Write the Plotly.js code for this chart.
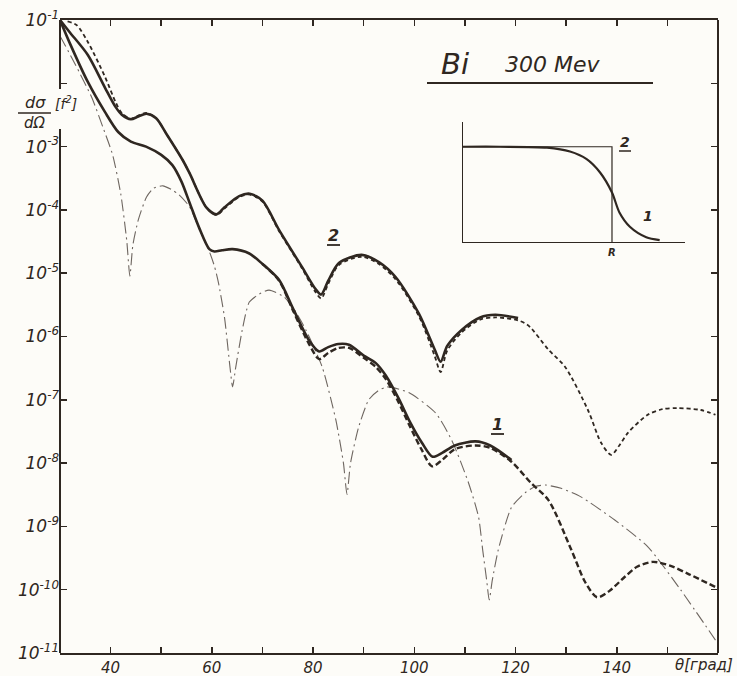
<!DOCTYPE html>
<html>
<head>
<meta charset="utf-8">
<script src="https://cdn.plot.ly/plotly-3.0.1.min.js"></script>
<style>html,body{margin:0;padding:0;background:#fdfcf8;}</style>
</head>
<body>
<div id="chart" style="width:737px;height:676px;"></div>
<script>
// ---- Data (theta in degrees, dσ/dΩ in f²) ----
const theta2Solid = [30, 32, 35.5, 38.9, 41, 42.2, 44, 45.5, 47.1, 49, 51, 54.2, 55.6, 58.9, 60.9, 62.5, 65.4, 67.5, 70, 73.3, 77.8, 80.5, 81.6, 83, 85.1, 89.6, 93, 96.3, 100.9, 104, 105.2, 106.5, 109.3, 113, 116, 120.5];
const sigma2Solid = [1.0e-1, 6.3e-2, 2.8e-2, 8.5e-3, 4.2e-3, 3.2e-3, 2.7e-3, 3.0e-3, 3.3e-3, 2.8e-3, 1.6e-3, 6.2e-4, 3.8e-4, 1.1e-4, 8.5e-5, 1.1e-4, 1.65e-4, 1.8e-4, 1.4e-4, 4.8e-5, 1.26e-5, 5.6e-6, 4.6e-6, 7.6e-6, 1.45e-5, 1.95e-5, 1.5e-5, 8.7e-6, 2.3e-6, 6.3e-7, 4.0e-7, 7.1e-7, 1.26e-6, 2.0e-6, 2.2e-6, 1.95e-6];

const theta2Dash = [31.5, 33.3, 35.5, 38.9, 41, 42.2, 44, 45.5, 47.1, 49, 51, 54.2, 55.6, 58.9, 60.9, 62.5, 65.4, 67.5, 70, 73.3, 77.8, 80.5, 81.6, 83, 85.1, 89.6, 93, 96.3, 100.9, 104, 105.2, 106.5, 109.3, 113, 116, 120.5, 122.5, 126.5, 129.8, 134.3, 136.9, 138.9, 140.5, 142.2, 146.1, 149, 152, 156.6, 159.5];
const sigma2Dash = [9.5e-2, 8.3e-2, 4.5e-2, 1.26e-2, 5.0e-3, 3.4e-3, 2.75e-3, 3.1e-3, 3.4e-3, 2.8e-3, 1.6e-3, 6.2e-4, 3.8e-4, 1.1e-4, 8.3e-5, 1.05e-4, 1.6e-4, 1.75e-4, 1.35e-4, 4.6e-5, 1.2e-5, 5.0e-6, 4.0e-6, 6.8e-6, 1.35e-5, 1.82e-5, 1.4e-5, 8.0e-6, 2.1e-6, 5.0e-7, 2.75e-7, 6.0e-7, 1.15e-6, 1.85e-6, 2.0e-6, 1.8e-6, 1.5e-6, 6.2e-7, 3.3e-7, 6.9e-8, 2.1e-8, 1.35e-8, 1.9e-8, 3.0e-8, 5.8e-8, 7.1e-8, 7.4e-8, 6.9e-8, 5.8e-8];

const theta1Solid = [30, 32, 35.5, 38.9, 41.5, 44, 47, 50, 52.2, 54, 55.6, 57.5, 59.5, 60.5, 62, 64.1, 67.4, 70, 73.3, 76, 79.2, 81.2, 83, 85, 87.1, 90, 92.4, 94.4, 96.9, 99, 101.5, 103.6, 105.5, 108, 112.1, 115, 119.2];
const sigma1Solid = [1.0e-1, 4.2e-2, 1.05e-2, 3.5e-3, 1.7e-3, 1.2e-3, 1.0e-3, 7.4e-4, 5.1e-4, 2.8e-4, 1.3e-4, 5.2e-5, 2.4e-5, 2.2e-5, 2.3e-5, 2.4e-5, 2.05e-5, 1.4e-5, 7.8e-6, 2.8e-6, 8.7e-7, 5.8e-7, 6.8e-7, 7.6e-7, 7.4e-7, 5.0e-7, 3.8e-7, 2.4e-7, 1.05e-7, 4.7e-8, 2.1e-8, 1.26e-8, 1.45e-8, 1.9e-8, 2.2e-8, 1.9e-8, 1.12e-8];

const theta1Dash = [70, 73.3, 76, 79.2, 81.2, 83, 85, 87.1, 90, 92.4, 94.4, 96.9, 99, 101.5, 103.5, 105.5, 108, 112.1, 115, 119.2, 123, 126.5, 131, 133.8, 136.1, 138.5, 141.6, 144, 147.1, 150.5, 154, 159.5];
const sigma1Dash = [1.4e-5, 7.6e-6, 2.6e-6, 7.6e-7, 4.4e-7, 5.5e-7, 6.6e-7, 6.6e-7, 4.6e-7, 3.3e-7, 2.1e-7, 9.1e-8, 4.0e-8, 1.6e-8, 8.9e-9, 1.12e-8, 1.66e-8, 1.9e-8, 1.74e-8, 1.05e-8, 4.9e-9, 2.6e-9, 4.3e-10, 1.3e-10, 7.6e-11, 9.5e-11, 1.6e-10, 2.3e-10, 2.75e-10, 2.4e-10, 1.8e-10, 1.1e-10];

const thetaBorn = [30, 33, 36.3, 38.5, 40.4, 42, 43.2, 43.8, 44.4, 45.5, 47.1, 48.5, 50.3, 52, 53.5, 55.6, 57.5, 59.5, 60.5, 61.3, 62.5, 63.6, 64.1, 64.7, 66, 67.4, 69.4, 71.3, 74.3, 76.5, 78.6, 81.8, 84.5, 86, 86.7, 87.4, 89, 91, 92.8, 94.6, 98.9, 104.2, 107.4, 110.7, 112.7, 113.5, 114.3, 114.8, 115.4, 116.6, 119.2, 121.9, 124, 125.9, 129, 133, 139.6, 146.1, 152.6, 159.5];
const sigmaBorn = [5.6e-2, 2.0e-2, 5.9e-3, 2.0e-3, 7.4e-4, 1.8e-4, 3.2e-5, 9.0e-6, 2.8e-5, 7.1e-5, 1.6e-4, 2.2e-4, 2.4e-4, 2.1e-4, 1.74e-4, 1.12e-4, 5.0e-5, 2.2e-5, 1.3e-5, 7.1e-6, 2.0e-6, 3.2e-7, 1.6e-7, 3.2e-7, 1.26e-6, 3.5e-6, 4.7e-6, 5.4e-6, 4.2e-6, 2.5e-6, 1.26e-6, 3.3e-7, 4.8e-8, 1.0e-8, 3.2e-9, 1.0e-8, 3.7e-8, 1.0e-7, 1.38e-7, 1.6e-7, 1.3e-7, 6.2e-8, 2.3e-8, 4.9e-9, 1.4e-9, 4.3e-10, 1.4e-10, 6.9e-11, 1.4e-10, 4.3e-10, 2.0e-9, 3.4e-9, 4.3e-9, 4.5e-9, 4.0e-9, 2.9e-9, 1.26e-9, 4.8e-10, 1.0e-10, 1.6e-11];

// inset: charge distributions (r in units of R, density relative)
const insetR1 = [0, 0.25, 0.564, 0.718, 0.83, 0.92, 1.0, 1.05, 1.12, 1.23, 1.32];
const insetRho1 = [1.0, 1.0, 0.99, 0.95, 0.87, 0.73, 0.52, 0.31, 0.16, 0.05, 0.02];
const insetR2 = [0, 1, 1];
const insetRho2 = [1, 1, 0];

const xTickVals = [40, 50, 60, 70, 80, 90, 100, 110, 120, 130, 140, 150];
const xTickText = ['40', '', '60', '', '80', '', '100', '', '120', '', '140', ''];
const yTickVals = [1e-1, 1e-2, 1e-3, 1e-4, 1e-5, 1e-6, 1e-7, 1e-8, 1e-9, 1e-10, 1e-11];
const yTickText = ['10<sup>-1</sup>', '', '10<sup>-3</sup>', '10<sup>-4</sup>', '10<sup>-5</sup>', '10<sup>-6</sup>', '10<sup>-7</sup>', '10<sup>-8</sup>', '10<sup>-9</sup>', '10<sup>-10</sup>', '10<sup>-11</sup>'];

// ---- Styling ----
const INK = '#2f2721';
const GREY = '#6e6660';
const BG = '#fdfcf8';
const FONT = 'DejaVu Sans';
const W = 737, H = 676, L = 60, R = 19, T = 20, B = 23;
const PW = W - L - R, PH = H - T - B;
const px = v => (v - L) / PW;
const py = v => (H - B - v) / PH;

const traces = [
  {x: thetaBorn, y: sigmaBorn, mode: 'lines', line: {color: GREY, width: 1.1, dash: '12px,4px,2px,4px', shape: 'spline', smoothing: 0.6}, hoverinfo: 'skip'},
  {x: theta2Dash, y: sigma2Dash, mode: 'lines', line: {color: INK, width: 1.8, dash: '4px,3px', shape: 'spline', smoothing: 0.8}, hoverinfo: 'skip'},
  {x: theta1Dash, y: sigma1Dash, mode: 'lines', line: {color: INK, width: 2.4, dash: '6px,3px', shape: 'spline', smoothing: 0.8}, hoverinfo: 'skip'},
  {x: theta2Solid, y: sigma2Solid, mode: 'lines', line: {color: INK, width: 2.6, shape: 'spline', smoothing: 0.8}, hoverinfo: 'skip'},
  {x: theta1Solid, y: sigma1Solid, mode: 'lines', line: {color: INK, width: 2.6, shape: 'spline', smoothing: 0.8}, hoverinfo: 'skip'},
  {x: insetR2, y: insetRho2, xaxis: 'x2', yaxis: 'y2', mode: 'lines', line: {color: INK, width: 1.2}, hoverinfo: 'skip'},
  {x: insetR1, y: insetRho1, xaxis: 'x2', yaxis: 'y2', mode: 'lines', line: {color: INK, width: 2.2, shape: 'spline', smoothing: 0.8}, hoverinfo: 'skip'}
];

function ann(x, y, text, size, bold) {
  return {xref: 'paper', yref: 'paper', x: px(x), y: py(y), text: text, showarrow: false,
          xanchor: 'center', yanchor: 'middle',
          font: {family: FONT, size: size, style: 'italic', weight: bold ? 'bold' : 'normal', color: INK}};
}
function seg(x0, y0, x1, y1, w) {
  return {type: 'line', xref: 'paper', yref: 'paper', x0: px(x0), x1: px(x1), y0: py(y0), y1: py(y1), line: {color: INK, width: w}};
}

const layout = {
  width: W, height: H,
  margin: {l: L, r: R, t: T, b: B, pad: 0},
  paper_bgcolor: BG, plot_bgcolor: BG,
  showlegend: false,
  xaxis: {
    range: [30, 160], tickvals: xTickVals, ticktext: xTickText,
    ticks: 'inside', ticklen: 6, tickwidth: 1.5, tickcolor: INK,
    showline: true, linewidth: 2, linecolor: INK, mirror: 'ticks',
    showgrid: false, zeroline: false, ticklabelstandoff: 0,
    tickfont: {family: FONT, size: 15, style: 'italic', color: INK}
  },
  yaxis: {
    type: 'log', range: [-11, -1], tickvals: yTickVals, ticktext: yTickText,
    ticks: 'inside', ticklen: 7, tickwidth: 1.5, tickcolor: INK,
    showline: false, mirror: 'ticks',
    showgrid: false, zeroline: false, tickfont: {family: FONT, size: 17, style: 'italic', color: INK}
  },
  xaxis2: {
    domain: [px(463), px(685)], anchor: 'y2', range: [0, 1.49],
    showline: true, linecolor: INK, linewidth: 1.2, ticks: '', showticklabels: false,
    showgrid: false, zeroline: false
  },
  yaxis2: {
    domain: [py(242), py(122)], anchor: 'x2', range: [0, 1.26],
    showline: true, linecolor: INK, linewidth: 1.2, ticks: '', showticklabels: false,
    showgrid: false, zeroline: false
  },
  shapes: [
    // left axis line, broken behind the ordinate label
    {type: 'line', xref: 'paper', yref: 'paper', x0: 0, x1: 0, y0: 1, y1: py(89), line: {color: INK, width: 2}},
    {type: 'line', xref: 'paper', yref: 'paper', x0: 0, x1: 0, y0: py(129), y1: 0, line: {color: INK, width: 2}},
    // right axis line
    {type: 'line', xref: 'paper', yref: 'paper', x0: 1, x1: 1, y0: 0, y1: 1, line: {color: INK, width: 2}},
    // fraction bar of dσ/dΩ
    seg(18, 113, 51, 113, 1.6),
    // underline of the title
    seg(427, 83, 653, 83, 1.8),
    // underlines of curve labels
    seg(327, 245, 340, 245, 1.8),
    seg(491, 434, 504, 434, 1.8),
    seg(619, 151, 631, 151, 1.5)
  ],
  annotations: [
    ann(35, 103, 'dσ', 16, false),
    ann(35, 123, 'dΩ', 15, false),
    ann(66, 103, '[f<sup>2</sup>]', 14, false),
    ann(704, 665, 'θ[град]', 15, false),
    ann(455, 64, 'Bi', 29, false),
    ann(553, 65, '300 Mev', 22, false),
    ann(333, 235, '2', 16, true),
    ann(497, 424, '1', 16, true),
    ann(625, 142, '2', 14, true),
    ann(648, 216, '1', 14, true),
    ann(612, 252, 'R', 10, true)
  ]
};

Plotly.newPlot('chart', traces, layout, {displayModeBar: false, staticPlot: true});
</script>
</body>
</html>
